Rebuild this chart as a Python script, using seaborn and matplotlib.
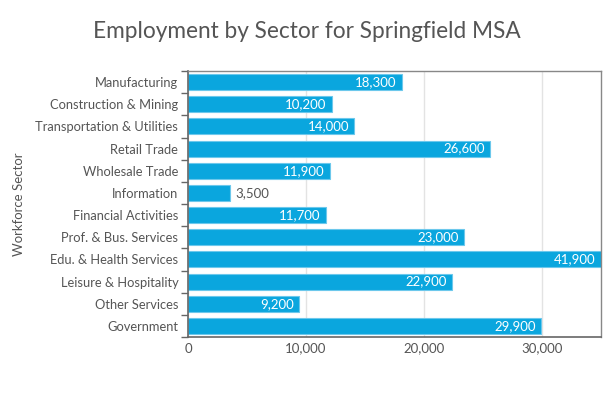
import matplotlib
matplotlib.use("Agg")
import matplotlib.pyplot as plt
import seaborn as sns
import pandas as pd
from matplotlib.ticker import FuncFormatter, FixedLocator

sectors = [
    "Manufacturing", "Construction & Mining", "Transportation & Utilities",
    "Retail Trade", "Wholesale Trade", "Information", "Financial Activities",
    "Prof. & Bus. Services", "Edu. & Health Services", "Leisure & Hospitality",
    "Other Services", "Government",
]
# bar lengths as drawn in the chart
bar_lengths = [18100, 12200, 14100, 25600, 12000, 3550, 11700,
               23400, 41900, 22400, 9400, 29900]
# printed labels
label_values = [18300, 10200, 14000, 26600, 11900, 3500, 11700,
                23000, 41900, 22900, 9200, 29900]
x_ticks = [0, 10000, 20000, 30000]
x_max = 35000

BAR = "#0aa6de"
TXT = "#555555"

sns.set_theme(style="white")
plt.rcParams["font.family"] = ["Lato", "DejaVu Sans"]

df = pd.DataFrame({"sector": sectors, "jobs": bar_lengths})

fig = plt.figure(figsize=(6.13, 3.97), dpi=100)
ax = fig.add_axes([188 / 613, 1 - 337 / 397, 413 / 613, 266 / 397])

sns.barplot(data=df, y="sector", x="jobs", orient="h", color=BAR,
            saturation=1, width=0.72, edgecolor="#6cc8ec", linewidth=0.8,
            ax=ax, zorder=2)

ax.set_xlim(0, x_max)
ax.set_ylim(len(sectors) - 0.5, -0.5)
ax.xaxis.set_major_locator(FixedLocator(x_ticks))
ax.xaxis.set_major_formatter(FuncFormatter(lambda v, p: f"{int(v):,}"))
ax.grid(axis="x", color="#e3e3e3", linewidth=1, zorder=0)
ax.set_axisbelow(True)

for side in ["top", "right"]:
    ax.spines[side].set_color("#888888")
    ax.spines[side].set_linewidth(1)
for side in ["left", "bottom"]:
    ax.spines[side].set_color("#666666")
    ax.spines[side].set_linewidth(1.2)

# category ticks between bars
ax.yaxis.set_minor_locator(FixedLocator([i + 0.5 for i in range(-1, len(sectors))]))
ax.tick_params(axis="y", which="major", length=0, pad=7, labelsize=9.3, labelcolor=TXT)
ax.tick_params(axis="y", which="minor", left=True, length=5, width=1, color="#666666")
ax.tick_params(axis="x", which="major", bottom=False, length=0, pad=4, labelsize=9.5, labelcolor=TXT)

ax.set_xlabel("")
ax.set_ylabel("Workforce Sector", fontsize=9.5, color=TXT)
ax.yaxis.set_label_coords(-163 / 413, 0.5)

for i, (L, v) in enumerate(zip(bar_lengths, label_values)):
    end = min(L, x_max)
    text = f"{v:,}"
    if end > 6000:
        ax.text(end - 450, i, text, ha="right", va="center", color="white",
                fontsize=9.5, zorder=3)
    else:
        ax.text(end + 450, i, text, ha="left", va="center", color=TXT,
                fontsize=9.5, zorder=3)

fig.text(0.5, 1 - 31 / 397, "Employment by Sector for Springfield MSA",
         ha="center", va="center", fontsize=16.3, color=TXT)

fig.savefig("out.png", dpi=100)
